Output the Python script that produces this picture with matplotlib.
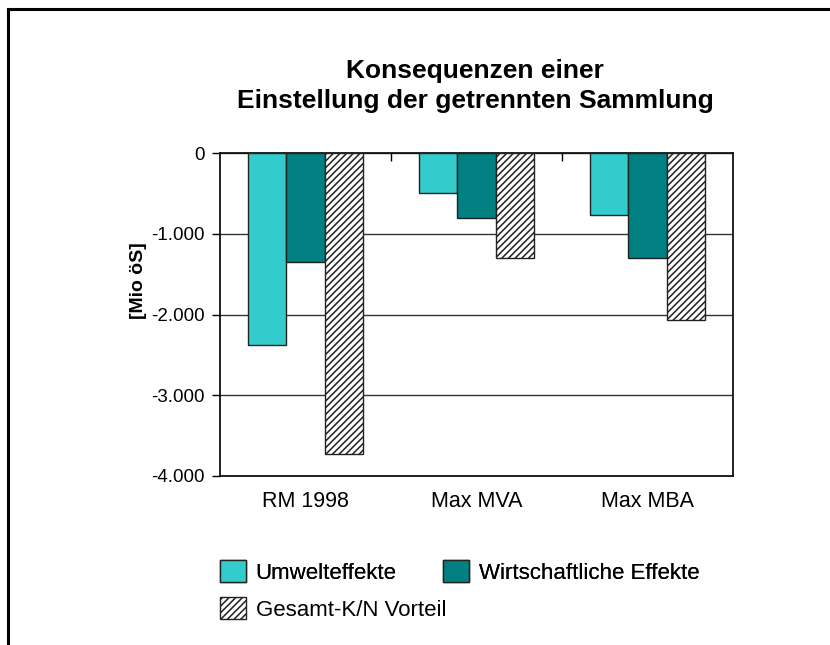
import matplotlib
matplotlib.use("Agg")
import matplotlib.pyplot as plt
from matplotlib.lines import Line2D
from matplotlib.ticker import FuncFormatter, FixedLocator
import numpy as np

plt.rcParams["font.family"] = ["Liberation Sans", "DejaVu Sans"]
plt.rcParams["hatch.linewidth"] = 1.1

# --- data (Mio öS) ---
categories = ["RM 1998", "Max MVA", "Max MBA"]
umwelt = [-2380, -500, -770]
wirtschaft = [-1355, -800, -1300]
gesamt = [-3730, -1305, -2070]
series_names = ["Umwelteffekte", "Wirtschaftliche Effekte", "Gesamt-K/N Vorteil"]


def main():
    W, H = 830, 645
    fig = plt.figure(figsize=(W / 100, H / 100), dpi=100)
    ax = fig.add_axes([220 / W, 1 - 476 / H, 513 / W, 323 / H])

    x = np.arange(len(categories))
    bw = 0.223
    b1 = ax.bar(x - bw, umwelt, bw, color="#33CCCC", edgecolor="#222222", linewidth=1.0,
                label=series_names[0], zorder=3)
    b2 = ax.bar(x, wirtschaft, bw, color="#008080", edgecolor="#222222", linewidth=1.0,
                label=series_names[1], zorder=3)
    b3 = ax.bar(x + bw, gesamt, bw, color="white", edgecolor="#222222", linewidth=1.0,
                hatch="/////", label=series_names[2], zorder=3)

    ax.set_xlim(-0.5, len(categories) - 0.5)
    ax.set_ylim(-4000, 0)
    ax.set_yticks([-4000, -3000, -2000, -1000, 0])
    ax.yaxis.set_major_formatter(FuncFormatter(lambda v, p: f"{int(v):,}".replace(",", ".")))
    ax.yaxis.grid(True, color="#333333", linewidth=1.0, zorder=0)
    ax.set_axisbelow(True)

    ax.set_xticks(x)
    ax.set_xticklabels(categories)
    ax.tick_params(axis="x", length=0, pad=11, labelsize=15.5)
    ax.tick_params(axis="y", direction="out", length=6, width=1.0, pad=5, labelsize=13.5)
    # category separators hanging from the zero line
    ax.xaxis.set_minor_locator(FixedLocator([0.5, 1.5]))
    ax.tick_params(axis="x", which="minor", top=True, bottom=False, direction="in",
                   length=6, width=1.0)

    for s in ax.spines.values():
        s.set_linewidth(1.3)
        s.set_color("#111111")

    fig.text(138 / W, 1 - 281 / H, "[Mio öS]", rotation=90, ha="center", va="center",
             fontsize=14, fontweight="bold")

    fig.text(475 / W, 1 - 71 / H, "Konsequenzen einer", ha="center", va="center",
             fontsize=19, fontweight="bold")
    fig.text(475 / W, 1 - 101 / H, "Einstellung der getrennten Sammlung", ha="center",
             va="center", fontsize=19, fontweight="bold")

    common = dict(frameon=False, fontsize=16, borderpad=0, borderaxespad=0,
                  handlelength=1.15, handleheight=1.15, handletextpad=0.45)
    leg1 = fig.legend(handles=[b1, b2], ncol=2, loc="upper left",
                      bbox_to_anchor=(220 / W, 1 - 560 / H), columnspacing=2.1, **common)
    fig.legend(handles=[b3], loc="upper left",
               bbox_to_anchor=(220 / W, 1 - 597 / H), **common)
    fig.add_artist(leg1)

    # outer frame (top and left edge)
    fig.add_artist(Line2D([8 / W, 1], [1 - 9 / H, 1 - 9 / H], color="black", linewidth=2.2))
    fig.add_artist(Line2D([8 / W, 8 / W], [0, 1 - 9 / H], color="black", linewidth=2.2))

    fig.savefig("out.png", dpi=100)


if __name__ == "__main__":
    main()
